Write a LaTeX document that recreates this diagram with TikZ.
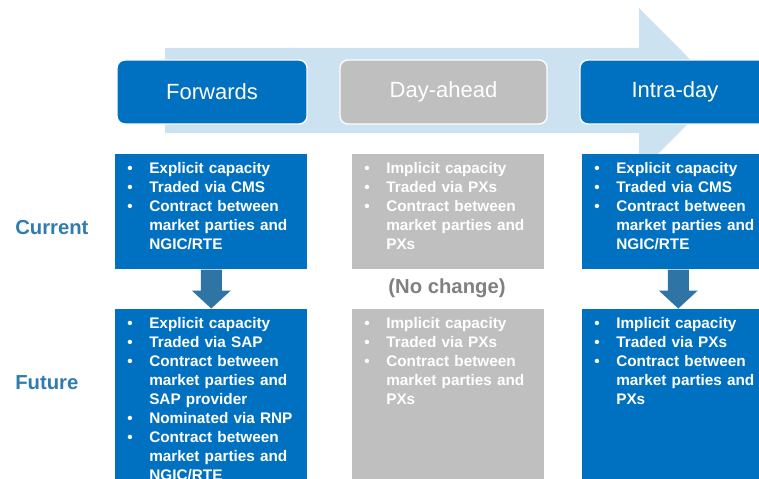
\documentclass[tikz,border=0pt]{standalone}
\usepackage{fontspec}
\setmainfont{Liberation Sans}
\usetikzlibrary{positioning, calc}
\definecolor{boxblue}{RGB}{0,112,192}
\definecolor{boxgrey}{RGB}{191,191,191}
\definecolor{flowblue}{RGB}{205,226,240}
\definecolor{stepblue}{RGB}{46,117,166}
\definecolor{rowblue}{RGB}{47,124,176}
\definecolor{nochange}{RGB}{128,128,128}
% one bullet point, wrapped lines hang under the text
\newcommand{\bitem}[1]{\par\noindent\makebox[16.5pt][l]{\textbullet}\parbox[t]{109.5pt}{\raggedright #1\par\xdef\bitemdepth{\the\prevdepth}}\par\prevdepth=\bitemdepth\relax}

\begin{document}
\begin{tikzpicture}[x=0.75pt,y=-0.75pt,
  phase/.style={rectangle, rounded corners=6pt, draw=white, line width=1pt, text=white, minimum height=48pt, font=\fontsize{16.5}{20}\selectfont},
  panel/.style={rectangle, minimum width=144pt, inner sep=0pt},
  bullets/.style={anchor=north west, text=white, text width=126pt, inner xsep=9pt, inner ysep=0.5pt, align=left, font=\bfseries\fontsize{11.5}{14.25}\selectfont},
  rowlabel/.style={anchor=west, inner xsep=0pt, text=rowblue, font=\bfseries\fontsize{15.2}{18}\selectfont}]
\useasboundingbox (0,0) rectangle (759,478);
\clip (0,0) rectangle (759,478);

% time line behind the phases
\fill[flowblue] (165,48) -- (639,48) -- (639,8) -- (721,90.5) -- (639,173) -- (639,133) -- (165,133) -- cycle;

\node[phase, fill=boxblue, minimum width=142.5pt] (fwd) at (212,92) {Forwards};
\node[phase, fill=boxgrey, minimum width=155.25pt] (dah) at (443.5,92) {Day-ahead};
\node[phase, fill=boxblue, minimum width=142.5pt] (itd) at (675,92) {Intra-day};

% current arrangements
\node[panel, anchor=north west, fill=boxblue, minimum height=86.25pt] (fwdnow) at (115,154) {};
\node[panel, anchor=north west, fill=boxgrey, minimum height=86.25pt] (dahnow) at (352,154) {};
\node[panel, anchor=north west, fill=boxblue, minimum height=86.25pt] (itdnow) at (582,154) {};

\node[bullets] (fwdnowtxt) at (fwdnow.north west) {\bitem{Explicit capacity}\bitem{Traded via CMS}\bitem{Contract between market parties and NGIC/RTE}};
\node[bullets] (dahnowtxt) at (dahnow.north west) {\bitem{Implicit capacity}\bitem{Traded via PXs}\bitem{Contract between market parties and PXs}};
\node[bullets] (itdnowtxt) at (itdnow.north west) {\bitem{Explicit capacity}\bitem{Traded via CMS}\bitem{Contract between market parties and NGIC/RTE}};

% future arrangements
\node[panel, fill=boxblue, minimum height=150pt, below=29.25pt of fwdnow] (fwdnext) {};
\node[panel, fill=boxgrey, minimum height=150pt, below=29.25pt of dahnow] (dahnext) {};
\node[panel, fill=boxblue, minimum height=150pt, below=29.25pt of itdnow] (itdnext) {};

\node[bullets] (fwdnexttxt) at (fwdnext.north west) {\bitem{Explicit capacity}\bitem{Traded via SAP}\bitem{Contract between market parties and SAP provider}\bitem{Nominated via RNP}\bitem{Contract between market parties and NGIC/RTE}};
\node[bullets] (dahnexttxt) at (dahnext.north west) {\bitem{Implicit capacity}\bitem{Traded via PXs}\bitem{Contract between market parties and PXs}};
\node[bullets] (itdnexttxt) at (itdnext.north west) {\bitem{Implicit capacity}\bitem{Traded via PXs}\bitem{Contract between market parties and PXs}};

% block arrows current -> future
\foreach \p in {fwd,itd}
  \fill[stepblue] ($(\p now.south)+(-10.5,0)$) -- ($(\p now.south)+(-10.5,21)$) -- ($(\p now.south)+(-19.5,21)$) -- (\p next.north) -- ($(\p now.south)+(19.5,21)$) -- ($(\p now.south)+(10.5,21)$) -- ($(\p now.south)+(10.5,0)$) -- cycle;

\node[text=nochange, font=\bfseries\fontsize{15.2}{18}\selectfont] (same) at (447,288) {(No change)};

\node[rowlabel] (cur) at (15,228) {Current};
\node[rowlabel] (fut) at (15,383) {Future};
\end{tikzpicture}
\end{document}
